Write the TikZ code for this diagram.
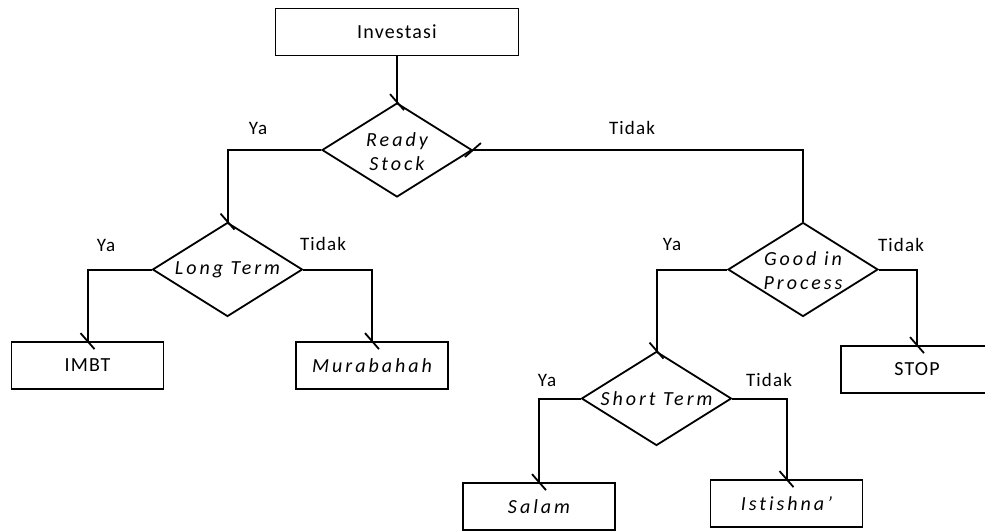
\documentclass[tikz,border=0pt]{standalone}
\usepackage{fontspec}
\setmainfont{Carlito}[Ligatures={NoCommon}, LetterSpace=6, ItalicFeatures={LetterSpace=15}]
\usetikzlibrary{shapes.geometric,decorations.markings}
\begin{document}
\begin{tikzpicture}[x=1pt,y=-1pt,
  box/.style={draw, line width=1.8pt, minimum width=152pt, minimum height=47pt, inner sep=0pt, font=\fontsize{20}{24}\selectfont},
  dec/.style={draw, diamond, line width=1.8pt, minimum width=150pt, minimum height=94pt, inner sep=0pt},
  dectext/.style={inner sep=0pt, font=\fontsize{20}{24}\selectfont\itshape, align=center},
  lbl/.style={font=\fontsize{19}{22}\selectfont, inner sep=0pt},
  conn/.style={line width=2pt, postaction={decorate}, decoration={markings, mark=at position 1 with {\draw[line width=1.8pt] (-8pt,-7pt) -- (8pt,7pt);}}},
]
\useasboundingbox (0,0) rectangle (985,530);
\clip (0,0) rectangle (985,530);

\node[box, minimum width=243pt] (inv) at (397,32) {Investasi};
\node[dec] (rs) at (397,150) {};
\node[dectext] (rst) at ([yshift=-2pt]rs.center) {Ready\\Stock};
\node[dec] (lt) at (227.5,269.5) {};
\node[dectext] (ltt) at (lt.center) {Long Term};
\node[dec] (gp) at (803,269.5) {};
\node[dectext] (gpt) at ([yshift=-1pt]gp.center) {Good in\\Process};
\node[dec] (st) at (656.5,398.5) {};
\node[dectext] (stt) at (st.center) {Short Term};
\node[box] (imbt) at (87.5,365.5) {IMBT};
\node[box] (mur) at (372,365.5) {\itshape Murabahah};
\node[box] (stop) at (917,369.5) {STOP};
\node[box] (sal) at (539,506.5) {\itshape Salam};
\node[box] (ist) at (786.5,503.5) {\itshape Istishna’};

\draw[conn] (inv.south) -- (rs.north);
\draw[conn] (rs.west) -| (lt.north);
\draw[conn] (gp.north) |- (rs.east);
\draw[conn] (lt.west) -| (imbt.north);
\draw[conn] (lt.east) -| (mur.north);
\draw[conn] (gp.west) -| (st.north);
\draw[conn] (gp.east) -| (stop.north);
\draw[conn] (st.west) -| (sal.north);
\draw[conn] (st.east) -| (ist.north);

\node[lbl] (y1) at (258,128) {Ya};
\node[lbl] (t1) at (632,128) {Tidak};
\node[lbl] (y2) at (106,245) {Ya};
\node[lbl] (t2) at (323,244) {Tidak};
\node[lbl] (y3) at (672,244) {Ya};
\node[lbl] (t3) at (901,245) {Tidak};
\node[lbl] (y4) at (547,380) {Ya};
\node[lbl] (t4) at (769,380) {Tidak};
\end{tikzpicture}
\end{document}
